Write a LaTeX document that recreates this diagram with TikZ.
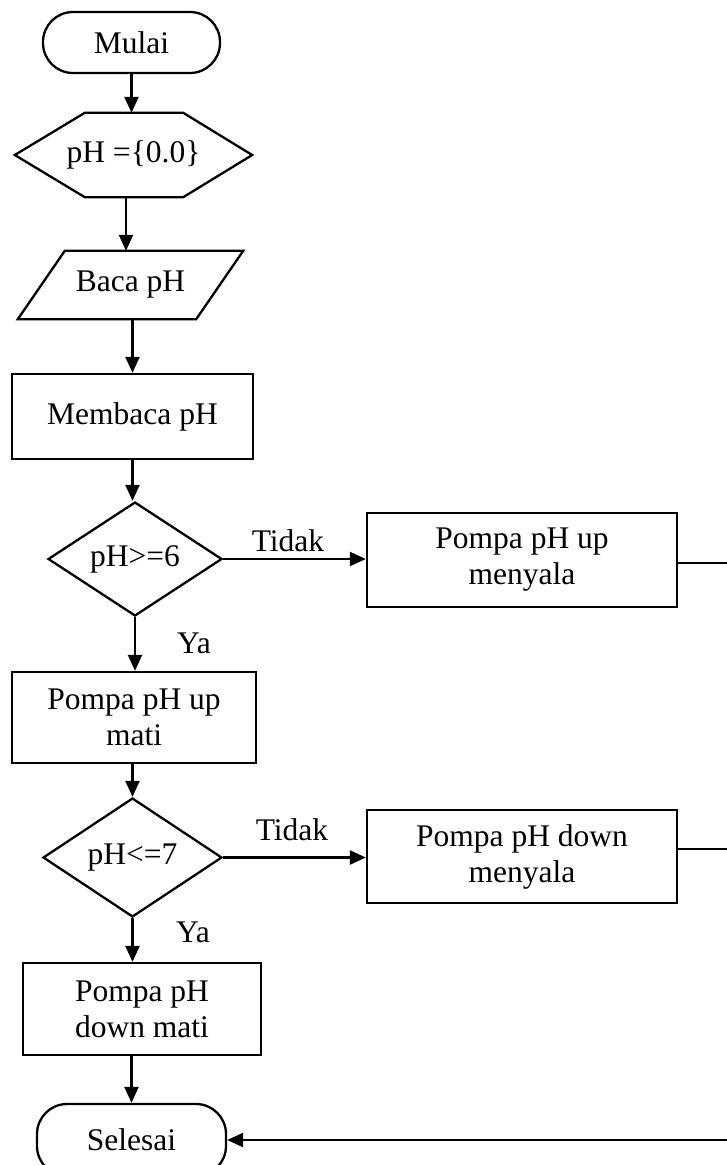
\documentclass[tikz,border=0pt]{standalone}
\usepackage{fontspec}
\setmainfont{Liberation Serif}
\usetikzlibrary{shapes.geometric,arrows.meta}

\begin{document}
\begin{tikzpicture}[x=1pt,y=-1pt,
  every node/.style={font=\fontsize{31.5}{36}\selectfont, align=center, inner sep=0pt},
  terminal/.style={draw, line width=2.3pt, rounded corners=30pt},
  procbox/.style={draw, line width=2.3pt, rectangle},
  decision/.style={draw, line width=2.3pt, diamond},
  plain/.style={},
  lbl/.style={},
  arr/.style={line width=2.3pt, -{Triangle[length=16pt,width=14pt]}},
  ln/.style={line width=2.3pt}]

\useasboundingbox (0,0) rectangle (727,1165);
\clip (0,0) rectangle (727,1165);

% start / end
\node[terminal, minimum width=177pt, minimum height=61pt] (start) at (131.5,42.5) {Mulai};

% initialisation (hexagon)
\node[plain, minimum width=237pt, minimum height=84pt] (init) at (133.5,155) {pH =\{0.0\}};
\draw[ln, line join=miter] (init.west) -- ([xshift=70pt]init.north west) -- ([xshift=-69pt]init.north east)
  -- (init.east) -- ([xshift=-69pt]init.south east) -- ([xshift=70pt]init.south west) -- cycle;

% input (parallelogram)
\node[plain, minimum width=225pt, minimum height=68pt] (baca) at (130.5,285) {Baca pH};
\draw[ln, line join=miter] (baca.south west) -- ([xshift=47pt]baca.north west) -- (baca.north east)
  -- ([xshift=-47pt]baca.south east) -- cycle;

\node[procbox, minimum width=241pt, minimum height=85pt] (membaca) at (132.5,416.5) {Membaca pH};

% first decision
\node[decision, minimum width=174pt, minimum height=114pt, aspect=1.53] (d1) at (135,559) {pH>=6};
\node[procbox, minimum width=310pt, minimum height=94pt] (upon) at (522,560) {Pompa pH up\\menyala};
\node[procbox, minimum width=244pt, minimum height=91pt] (upoff) at (134,717.5) {Pompa pH up\\mati};

% second decision
\node[decision, minimum width=179pt, minimum height=119pt, aspect=1.5] (d2) at (132.5,857.5) {pH<=7};
\node[procbox, minimum width=310pt, minimum height=93pt] (downon) at (522,856.5) {Pompa pH down\\menyala};
\node[procbox, minimum width=238pt, minimum height=92pt] (downoff) at (142,1009) {Pompa pH\\down mati};

\node[terminal, minimum width=189pt, minimum height=72pt] (end) at (131.5,1140) {Selesai};

% branch labels
\node[lbl] (t1) at (288,541) {Tidak};
\node[lbl] (y1) at (194,643) {Ya};
\node[lbl] (t2) at (292,830) {Tidak};
\node[lbl] (y2) at (193,932) {Ya};

% return lines running off to the right
\coordinate (r1) at (760,563);
\coordinate (r2) at (760,849);
\coordinate (r3) at (760,1140);

% connectors
\draw[arr] (start.south) -- (start.south |- init.north);
\draw[arr] ([xshift=-7.5pt]init.south) -- ([xshift=-7.5pt]init.south |- baca.north);
\draw[arr] (baca.south -| membaca.north) -- (membaca.north);
\draw[arr] (membaca.south) -- (membaca.south |- d1.north);
\draw[arr] (d1.east) -- (d1.east -| upon.west);
\draw[arr] (d1.south) -- (d1.south |- upoff.north);
\draw[ln] (upon.east |- r1) -- (r1);
\draw[arr] (upoff.south -| d2.north) -- (d2.north);
\draw[arr] (d2.east) -- (d2.east -| downon.west);
\draw[arr] (d2.south) -- (d2.south |- downoff.north);
\draw[ln] (downon.east |- r2) -- (r2);
\draw[arr] (end.north |- downoff.south) -- (end.north);
\draw[arr] (r3) -- (end.east);
\end{tikzpicture}
\end{document}
